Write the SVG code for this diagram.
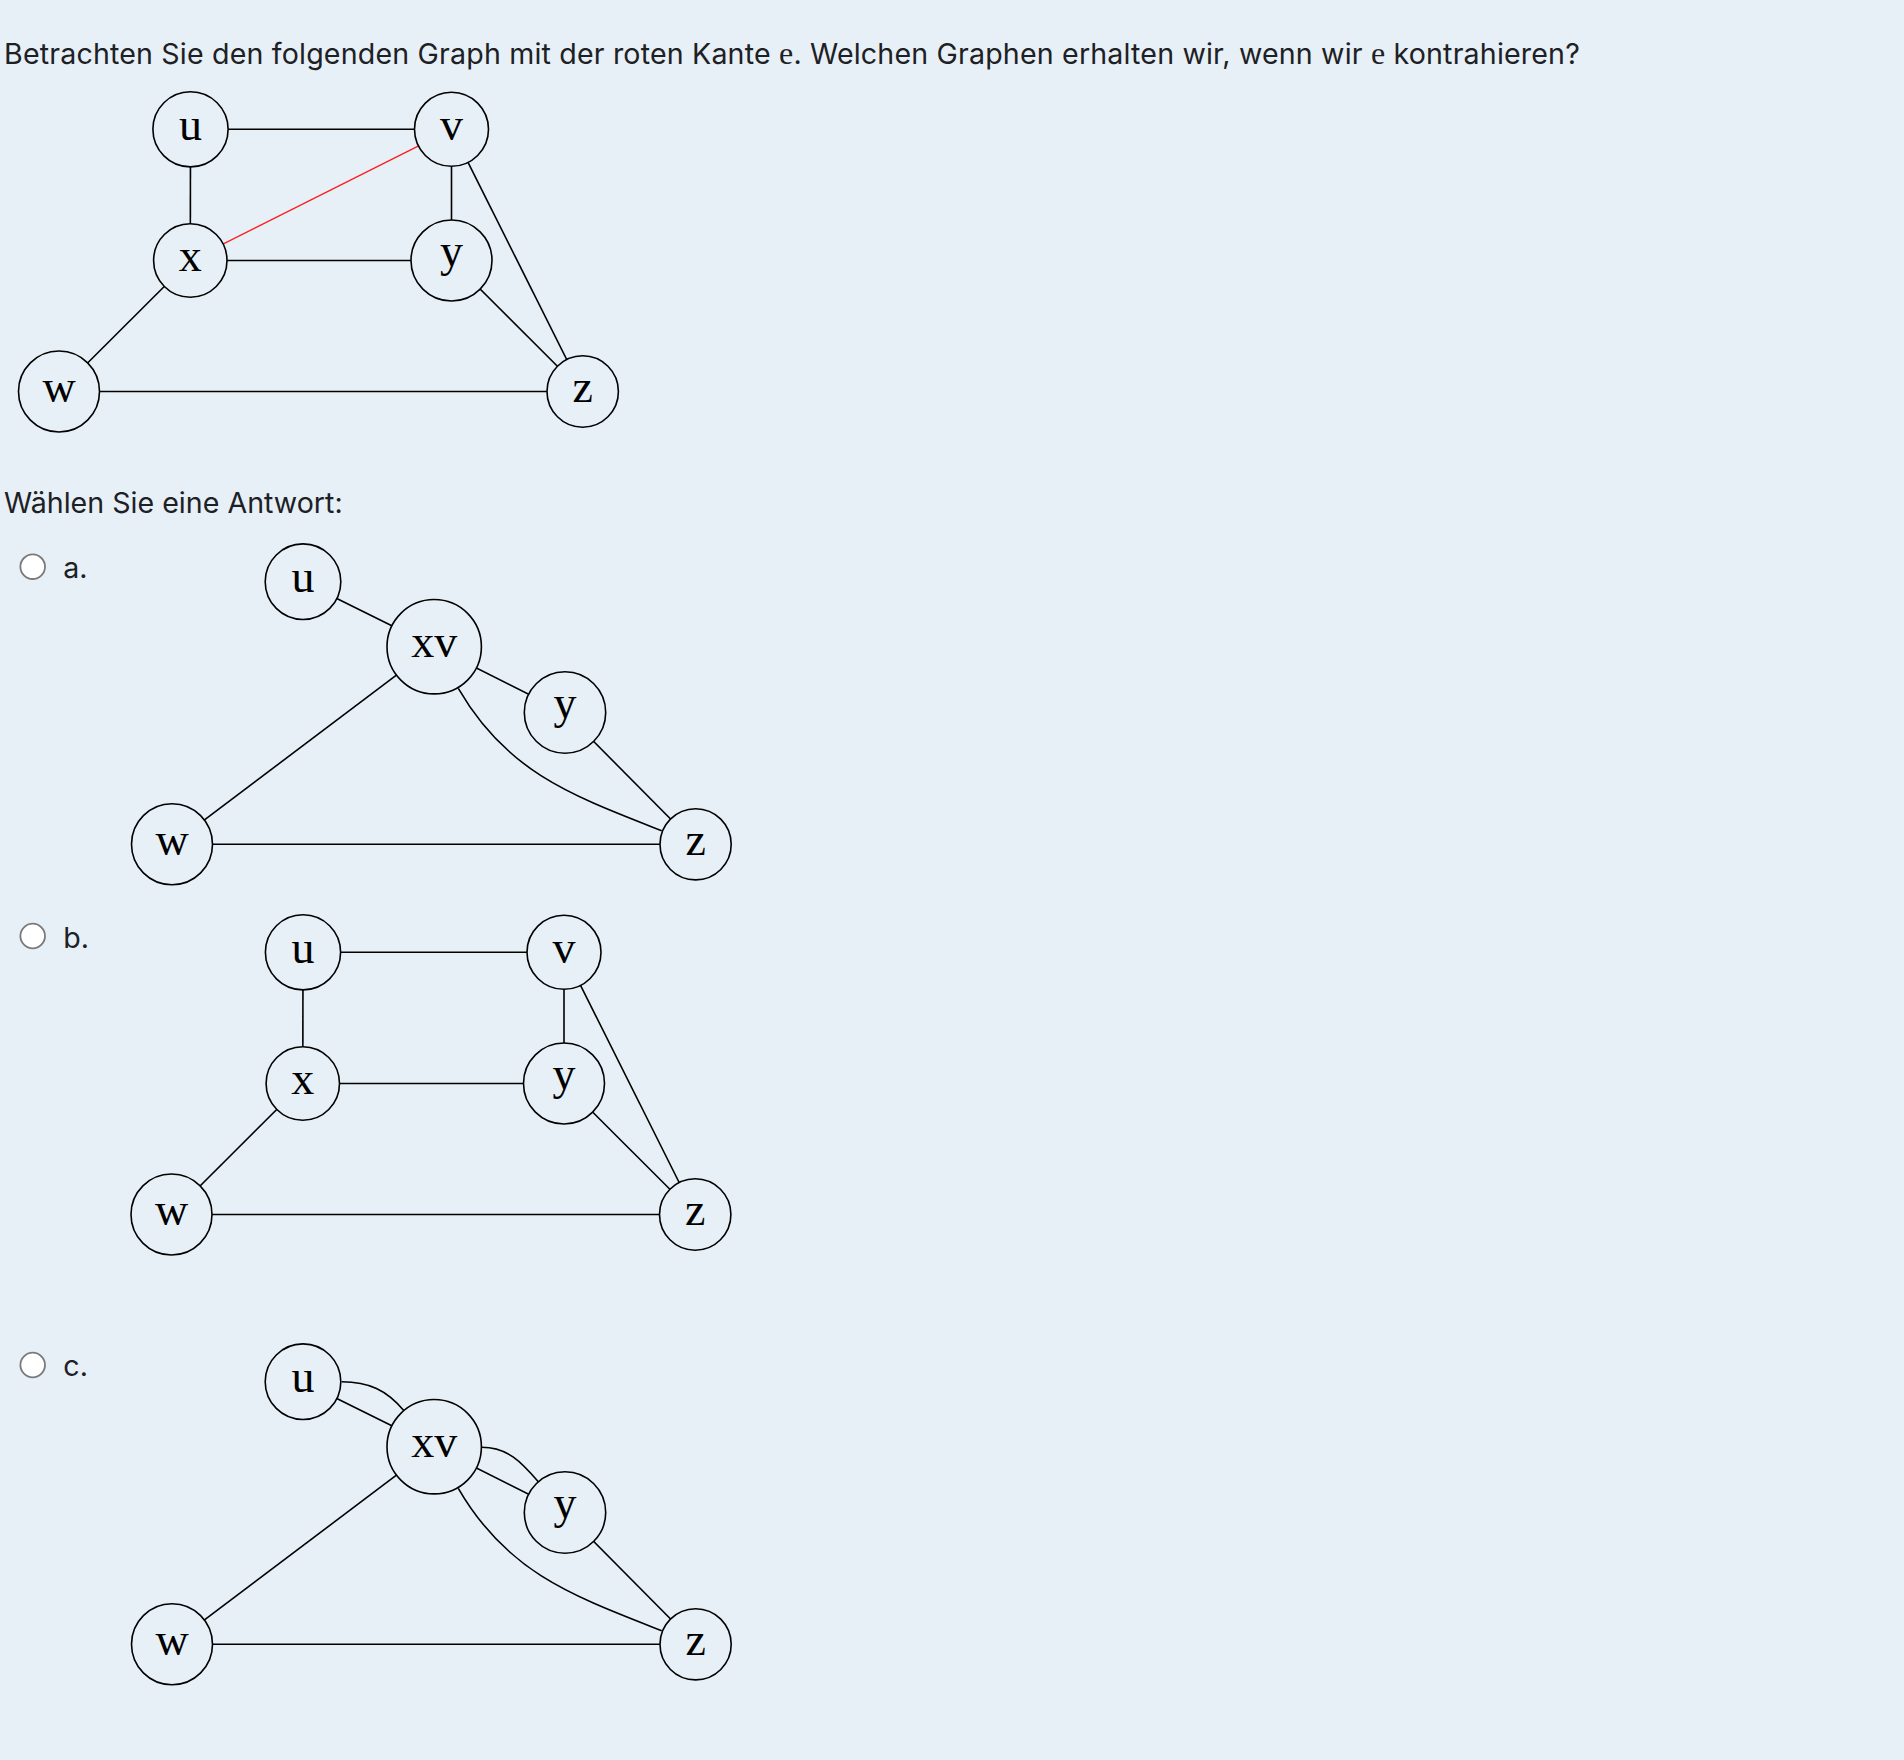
<svg xmlns="http://www.w3.org/2000/svg" width="1904" height="1760" viewBox="0 0 1904 1760">
<style>
.bg{fill:#e7f0f6}
.txt{font-family:Inter,"Liberation Sans",sans-serif;font-size:28.6px;fill:#1d2125}
.title{letter-spacing:0.17px}
.m{font-family:"Liberation Serif",serif;font-size:32px}
.edge{stroke:#000;stroke-width:1.6;fill:none}
.red{stroke:#ff1a1a;stroke-width:1.3}
.node circle{fill:#e7f0f6;stroke:#000;stroke-width:1.6}
.node text{font-family:"Liberation Serif",serif;font-size:46px;text-anchor:middle;fill:#000}
.radio{fill:#fff;stroke:#7a7a7a;stroke-width:1.8}
</style>
<rect class="bg" x="0" y="0" width="1904" height="1760"/>
<text class="txt title" x="4" y="63.5">Betrachten Sie den folgenden Graph mit der roten Kante <tspan class="m">e</tspan>. Welchen Graphen erhalten wir, wenn wir <tspan class="m">e</tspan> kontrahieren?</text>
<text class="txt" x="4" y="512.5">Wählen Sie eine Antwort:</text>
<g id="options">
<circle class="radio" cx="32.7" cy="566.7" r="12.3"/>
<text class="txt" x="63.3" y="577.5">a.</text>
<circle class="radio" cx="32.7" cy="936" r="12.3"/>
<text class="txt" x="63.3" y="947.5">b.</text>
<circle class="radio" cx="32.7" cy="1365" r="12.3"/>
<text class="txt" x="63.3" y="1376">c.</text>
</g>
<g id="connectors">
<!-- main graph -->
<line class="edge" x1="190.5" y1="129.3" x2="451.5" y2="129.3"/>
<line class="edge" x1="190.5" y1="129.3" x2="190.3" y2="260.5"/>
<line class="edge" x1="451.5" y1="129.3" x2="451.5" y2="260.5"/>
<line class="edge" x1="190.3" y1="260.5" x2="451.5" y2="260.5"/>
<line class="edge" x1="190.3" y1="260.5" x2="59" y2="391.5"/>
<line class="edge" x1="451.5" y1="129.3" x2="582.7" y2="391.5"/>
<line class="edge" x1="451.5" y1="260.5" x2="582.7" y2="391.5"/>
<line class="edge" x1="59" y1="391.5" x2="582.7" y2="391.5"/>
<line class="edge red" x1="190.3" y1="260.5" x2="451.5" y2="129.3"/>
<!-- option a -->
<line class="edge" x1="303" y1="581.7" x2="434.2" y2="646.7"/>
<line class="edge" x1="434.2" y1="646.7" x2="565" y2="712.5"/>
<line class="edge" x1="434.2" y1="646.7" x2="172" y2="844.3"/>
<line class="edge" x1="565" y1="712.5" x2="695.6" y2="844.3"/>
<line class="edge" x1="172" y1="844.3" x2="695.6" y2="844.3"/>
<path class="edge" d="M458.3,688.3 C506.8,772.3 571.4,795.3 661.7,830.7"/>
<!-- option b -->
<line class="edge" x1="303" y1="952.3" x2="564" y2="952.3"/>
<line class="edge" x1="303" y1="952.3" x2="302.8" y2="1083.5"/>
<line class="edge" x1="564" y1="952.3" x2="564" y2="1083.5"/>
<line class="edge" x1="302.8" y1="1083.5" x2="564" y2="1083.5"/>
<line class="edge" x1="302.8" y1="1083.5" x2="171.5" y2="1214.5"/>
<line class="edge" x1="564" y1="952.3" x2="695.2" y2="1214.5"/>
<line class="edge" x1="564" y1="1083.5" x2="695.2" y2="1214.5"/>
<line class="edge" x1="171.5" y1="1214.5" x2="695.2" y2="1214.5"/>
<!-- option c -->
<line class="edge" x1="303" y1="1381.7" x2="434.2" y2="1446.7"/>
<path class="edge" d="M341.7,1381.7 C368.7,1381.7 386.7,1390 404,1410.7"/>
<line class="edge" x1="434.2" y1="1446.7" x2="565" y2="1512.5"/>
<path class="edge" d="M481.7,1447.3 C507.7,1447.3 521.3,1462 538.3,1481.7"/>
<line class="edge" x1="434.2" y1="1446.7" x2="172" y2="1644.3"/>
<line class="edge" x1="565" y1="1512.5" x2="695.6" y2="1644.3"/>
<line class="edge" x1="172" y1="1644.3" x2="695.6" y2="1644.3"/>
<path class="edge" d="M458.3,1488.3 C506.8,1572.3 571.4,1595.3 661.7,1630.7"/>
</g>
<!-- main graph nodes -->
<g id="m-u" class="node"><circle cx="190.5" cy="129.3" r="37.6"/><text x="190.5" y="140">u</text></g>
<g id="m-v" class="node"><circle cx="451.5" cy="129.3" r="37"/><text x="451.5" y="140">v</text></g>
<g id="m-x" class="node"><circle cx="190.3" cy="260.5" r="36.7"/><text x="190.3" y="271">x</text></g>
<g id="m-y" class="node"><circle cx="451.5" cy="260.5" r="40.5"/><text x="451.5" y="266">y</text></g>
<g id="m-w" class="node"><circle cx="59" cy="391.5" r="40.5"/><text x="59" y="402">w</text></g>
<g id="m-z" class="node"><circle cx="582.7" cy="391.5" r="35.7"/><text x="582.7" y="402">z</text></g>
<!-- option a nodes -->
<g id="a-u" class="node"><circle cx="303" cy="581.7" r="37.8"/><text x="303" y="592.3">u</text></g>
<g id="a-xv" class="node"><circle cx="434.2" cy="646.7" r="47.2"/><text x="434.2" y="657.3">xv</text></g>
<g id="a-y" class="node"><circle cx="565" cy="712.5" r="40.7"/><text x="565" y="718">y</text></g>
<g id="a-w" class="node"><circle cx="172" cy="844.3" r="40.5"/><text x="172" y="855">w</text></g>
<g id="a-z" class="node"><circle cx="695.6" cy="844.3" r="35.6"/><text x="695.6" y="855">z</text></g>
<!-- option b nodes -->
<g id="b-u" class="node"><circle cx="303" cy="952.3" r="37.6"/><text x="303" y="963">u</text></g>
<g id="b-v" class="node"><circle cx="564" cy="952.3" r="37"/><text x="564" y="963">v</text></g>
<g id="b-x" class="node"><circle cx="302.8" cy="1083.5" r="36.7"/><text x="302.8" y="1094">x</text></g>
<g id="b-y" class="node"><circle cx="564" cy="1083.5" r="40.5"/><text x="564" y="1089">y</text></g>
<g id="b-w" class="node"><circle cx="171.5" cy="1214.5" r="40.5"/><text x="171.5" y="1225">w</text></g>
<g id="b-z" class="node"><circle cx="695.2" cy="1214.5" r="35.7"/><text x="695.2" y="1225">z</text></g>
<!-- option c nodes -->
<g id="c-u" class="node"><circle cx="303" cy="1381.7" r="37.8"/><text x="303" y="1392.3">u</text></g>
<g id="c-xv" class="node"><circle cx="434.2" cy="1446.7" r="47.2"/><text x="434.2" y="1457.3">xv</text></g>
<g id="c-y" class="node"><circle cx="565" cy="1512.5" r="40.7"/><text x="565" y="1518">y</text></g>
<g id="c-w" class="node"><circle cx="172" cy="1644.3" r="40.5"/><text x="172" y="1655">w</text></g>
<g id="c-z" class="node"><circle cx="695.6" cy="1644.3" r="35.6"/><text x="695.6" y="1655">z</text></g>
</svg>
